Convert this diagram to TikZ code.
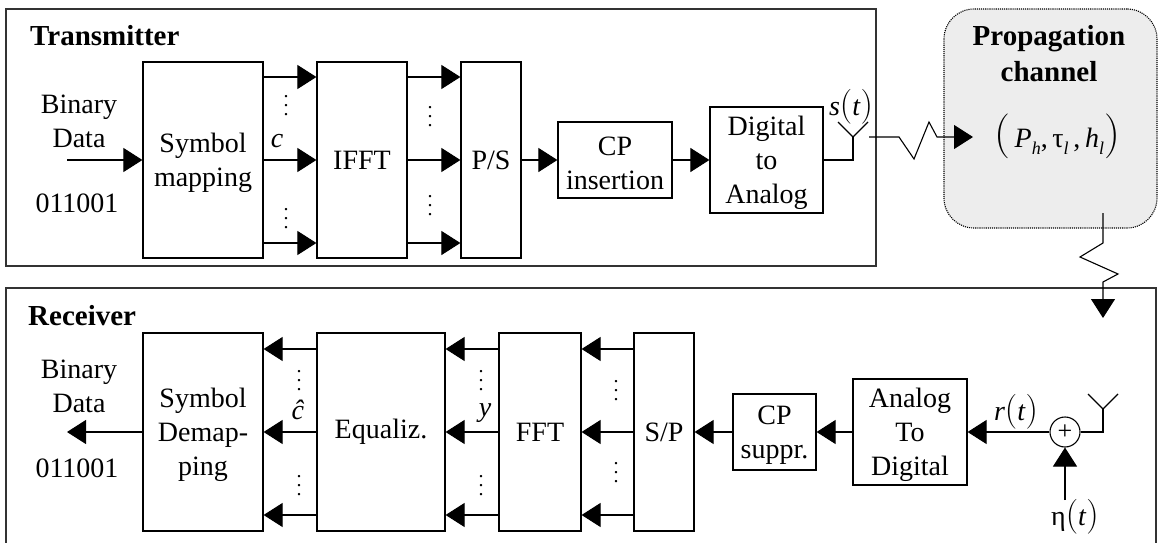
\documentclass[tikz,border=0pt]{standalone}
\usepackage{fontspec}
\setmainfont{Liberation Serif}
\usetikzlibrary{arrows.meta}
\newcommand{\colondots}{\vbox{\baselineskip9pt\lineskiplimit0pt\fontsize{20}{9}\selectfont\hbox{.}\hbox{.}\hbox{.}}}
\newcommand{\tallp}[1]{\scalebox{1.4}{$\big#1$}}
\newcommand{\hugep}[1]{\scalebox{1.8}{$\big#1$}}
\newcommand{\lowsub}[1]{\raisebox{-7pt}{\fontsize{18}{18}\selectfont\textit{#1}}}
\newcommand{\topstrut}{\rule{0pt}{25pt}}
\tikzset{
  block/.style={rectangle, black, draw, line width=1.2pt, inner sep=0pt, align=center, font=\fontsize{28}{34}\selectfont},
  frame/.style={rectangle, draw=black!80, line width=1.6pt, inner sep=0pt},
  textlab/.style={inner sep=0pt, align=center, font=\fontsize{28}{34}\selectfont},
  titlelab/.style={inner sep=0pt, align=center, font=\bfseries\fontsize{29}{36}\selectfont},
  dotlab/.style={inner sep=0pt},
  wire/.style={line width=1.1pt},
  link/.style={wire, -{Triangle[length=19pt,width=24pt]}}
}
\begin{document}
\begin{tikzpicture}[x=1pt, y=-1pt]
            \useasboundingbox (0,0) rectangle (1163,543);
            \draw
            (441, 137.5) node[frame, minimum width=870pt, minimum height=257pt](tx) {}
            (581, 420) node[frame, minimum width=1150pt, minimum height=264pt](rx) {}
            (1050.5, 118.5) node[rectangle, rounded corners=30pt, densely dotted, draw, fill=black!7, line width=1.1pt, minimum width=213pt, minimum height=219pt](chan) {}
            (203, 160) node[block, minimum width=120pt, minimum height=196pt](map) {\topstrut Symbol\\mapping}
            (362, 160) node[block, minimum width=90pt, minimum height=196pt](ifft) {IFFT}
            (491, 160) node[block, minimum width=60pt, minimum height=196pt](ps) {P/S}
            (615, 160) node[block, minimum width=114pt, minimum height=76pt](cpi) {\topstrut CP\\insertion}
            (766.5, 160) node[block, minimum width=113pt, minimum height=106pt](dac) {\topstrut Digital\\to\\Analog}
            (203, 432) node[block, minimum width=120pt, minimum height=198pt](demap) {\topstrut Symbol\\Demap-\\ping}
            (381, 432) node[block, minimum width=128pt, minimum height=198pt](eq) {Equaliz.}
            (540, 432) node[block, minimum width=82pt, minimum height=198pt](fft) {FFT}
            (664, 432) node[block, minimum width=60pt, minimum height=198pt](sp) {S/P}
            (774.5, 432) node[block, minimum width=83pt, minimum height=76pt](cps) {\topstrut CP\\suppr.}
            (910, 432) node[block, minimum width=114pt, minimum height=106pt](adc) {\topstrut Analog\\To\\Digital}
            (1065, 432) node[circle, black, draw, wire, minimum size=30pt, inner sep=0pt](add) {\fontsize{26}{26}\selectfont +};

            % labels
            \node[titlelab, anchor=west] (txname) at (30, 36) {Transmitter};
            \node[titlelab, anchor=west] (rxname) at (28, 316) {Receiver};
            \node[titlelab] (chname) at (1049, 54) {Propagation\\channel};
            \node[textlab] (bin1) at (79, 121) {Binary\\Data};
            \node[textlab] (bits1) at (77, 203) {011001};
            \node[textlab] (bin2) at (79, 386) {Binary\\Data};
            \node[textlab] (bits2) at (77, 468) {011001};
            \node[textlab] (c) at (277, 141) {\textit{c}};
            \node[textlab] (chat) at (298, 410) {\textit{ĉ}};
            \node[textlab] (y) at (485, 413) {\textit{y}};
            \node[textlab] (st) at (851, 107) {\textit{s}\tallp{(}\textit{t}\tallp{)}};
            \node[textlab] (rt) at (1016, 412) {\textit{r}\tallp{(}\textit{t}\tallp{)}};
            \node[textlab] (nt) at (1075, 517) {η\tallp{(}\textit{t}\tallp{)}};
            \node[textlab] (par) at (1057, 136) {\hugep{(}\,\textit{P}\lowsub{h},\,τ\lowsub{l}\,,\,\textit{h}\lowsub{l}\hugep{)}};

            % dots
            \node[dotlab] (d1) at (286, 106) {\colondots};
            \node[dotlab] (d2) at (286, 219) {\colondots};
            \node[dotlab] (d3) at (430, 117) {\colondots};
            \node[dotlab] (d4) at (430, 206) {\colondots};
            \node[dotlab] (d5) at (299, 381) {\colondots};
            \node[dotlab] (d6) at (299, 486) {\colondots};
            \node[dotlab] (d7) at (481, 381) {\colondots};
            \node[dotlab] (d8) at (481, 486) {\colondots};
            \node[dotlab] (d9) at (616, 391) {\colondots};
            \node[dotlab] (d10) at (616, 473) {\colondots};

            % transmitter
            \coordinate (src) at (67, 160);
            \draw[link] (src)--(map);
            \draw[link] ([yshift=83pt]map.east)--([yshift=83pt]ifft.west);
            \draw[link] (map)--(ifft);
            \draw[link] ([yshift=-83pt]map.east)--([yshift=-83pt]ifft.west);
            \draw[link] ([yshift=83pt]ifft.east)--([yshift=83pt]ps.west);
            \draw[link] (ifft)--(ps);
            \draw[link] ([yshift=-83pt]ifft.east)--([yshift=-83pt]ps.west);
            \draw[link] (ps)--(cpi);
            \draw[link] (cpi)--(dac);

            % transmit antenna
            \coordinate (txant) at (853, 137);
            \coordinate (txl) at (838, 122);
            \coordinate (txr) at (868, 122);
            \draw[wire] (dac.east)-|(txant);
            \draw[wire] (txl)--(txant)--(txr);

            % channel links
            \coordinate (z1) at (869, 137);
            \coordinate (z2) at (899, 137);
            \coordinate (z3) at (914, 159);
            \coordinate (z4) at (929, 122);
            \coordinate (z5) at (937, 137);
            \coordinate (z6) at (973, 137);
            \draw[link] (z1)--(z2)--(z3)--(z4)--(z5)--(z6);
            \coordinate (w1) at (1103, 213);
            \coordinate (w2) at (1103, 243);
            \coordinate (w3) at (1080, 257);
            \coordinate (w4) at (1118, 274);
            \coordinate (w5) at (1103, 282);
            \coordinate (w6) at (1103, 318);
            \draw[link] (w1)--(w2)--(w3)--(w4)--(w5)--(w6);

            % receiver
            \coordinate (rxant) at (1103, 409);
            \coordinate (rxl) at (1088, 394);
            \coordinate (rxr) at (1118, 394);
            \coordinate (noise) at (1065, 500);
            \coordinate (sink) at (67, 432);
            \draw[wire] (add.east)-|(rxant);
            \draw[wire] (rxl)--(rxant)--(rxr);
            \draw[link] (noise)--(add);
            \draw[link] (add)--(adc);
            \draw[link] (adc)--(cps);
            \draw[link] (cps)--(sp);
            \draw[link] ([yshift=83pt]sp.west)--([yshift=83pt]fft.east);
            \draw[link] (sp)--(fft);
            \draw[link] ([yshift=-83pt]sp.west)--([yshift=-83pt]fft.east);
            \draw[link] ([yshift=83pt]fft.west)--([yshift=83pt]eq.east);
            \draw[link] (fft)--(eq);
            \draw[link] ([yshift=-83pt]fft.west)--([yshift=-83pt]eq.east);
            \draw[link] ([yshift=83pt]eq.west)--([yshift=83pt]demap.east);
            \draw[link] (eq)--(demap);
            \draw[link] ([yshift=-83pt]eq.west)--([yshift=-83pt]demap.east);
            \draw[link] (demap)--(sink);
\end{tikzpicture}
\end{document}
